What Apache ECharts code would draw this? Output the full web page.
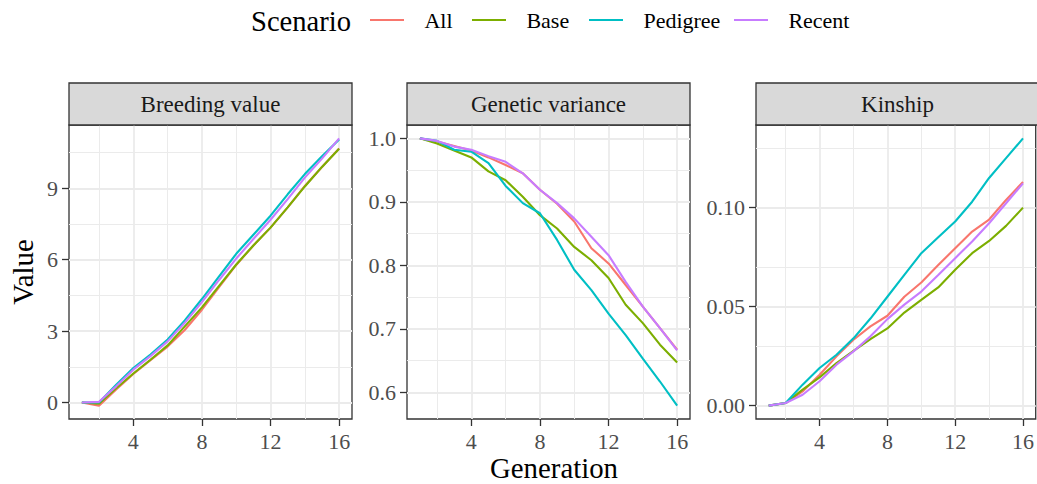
<!DOCTYPE html>
<html>
<head>
<meta charset="utf-8">
<script src="https://cdn.jsdelivr.net/npm/echarts@6/dist/echarts.min.js"></script>
<style>
html,body{margin:0;padding:0;background:#fff;}
#chart{width:1037px;height:484px;}
</style>
</head>
<body>
<div id="chart"></div>
<script>
// ---------------- data ----------------
const generations = [1, 2, 3, 4, 5, 6, 7, 8, 9, 10, 11, 12, 13, 14, 15, 16];
const scenarios = ['All', 'Base', 'Pedigree', 'Recent'];
const panelTitles = ['Breeding value', 'Genetic variance', 'Kinship'];

// Breeding value
const bvAll      = [0, -0.13, 0.55, 1.20, 1.78, 2.35, 3.05, 3.90, 4.85, 5.78, 6.60, 7.35, 8.20, 9.10, 9.90, 10.68];
const bvBase     = [0, -0.05, 0.60, 1.22, 1.80, 2.40, 3.20, 4.00, 4.90, 5.80, 6.60, 7.35, 8.20, 9.08, 9.90, 10.66];
const bvPedigree = [0, 0.00, 0.75, 1.45, 2.02, 2.65, 3.45, 4.35, 5.30, 6.25, 7.05, 7.85, 8.75, 9.60, 10.35, 11.05];
const bvRecent   = [0, 0.03, 0.68, 1.38, 1.95, 2.57, 3.35, 4.22, 5.15, 6.05, 6.87, 7.68, 8.55, 9.45, 10.25, 11.10];

// Genetic variance
const gvAll      = [1.000, 0.995, 0.988, 0.981, 0.970, 0.958, 0.945, 0.919, 0.897, 0.869, 0.827, 0.803, 0.769, 0.735, 0.701, 0.667];
const gvBase     = [1.000, 0.992, 0.981, 0.970, 0.948, 0.934, 0.908, 0.879, 0.858, 0.829, 0.808, 0.780, 0.738, 0.709, 0.675, 0.647];
const gvPedigree = [1.000, 0.996, 0.982, 0.979, 0.961, 0.925, 0.898, 0.882, 0.840, 0.793, 0.761, 0.724, 0.690, 0.653, 0.617, 0.579];
const gvRecent   = [1.000, 0.996, 0.987, 0.982, 0.972, 0.963, 0.945, 0.919, 0.898, 0.874, 0.845, 0.816, 0.774, 0.735, 0.701, 0.666];

// Kinship
const kAll      = [0, 0.0013, 0.0072, 0.0156, 0.0249, 0.0333, 0.0400, 0.0454, 0.0550, 0.0622, 0.0710, 0.0795, 0.0879, 0.0940, 0.1039, 0.1130];
const kBase     = [0, 0.0013, 0.0081, 0.0143, 0.0215, 0.0277, 0.0336, 0.0390, 0.0470, 0.0534, 0.0597, 0.0686, 0.0770, 0.0832, 0.0908, 0.1000];
const kPedigree = [0, 0.0013, 0.0106, 0.0190, 0.0257, 0.0340, 0.0440, 0.0550, 0.0660, 0.0770, 0.0850, 0.0930, 0.1030, 0.1150, 0.1250, 0.1350];
const kRecent   = [0, 0.0013, 0.0055, 0.0123, 0.0207, 0.0274, 0.0350, 0.0437, 0.0510, 0.0576, 0.0660, 0.0745, 0.0829, 0.0921, 0.1022, 0.1123];

// tick labels / grid breaks
const xMajor = [4, 8, 12, 16];
const xMinor = [2, 6, 10, 14];
const yMajor = [[0, 3, 6, 9], [0.6, 0.7, 0.8, 0.9, 1.0], [0, 0.05, 0.10]];
const yMinor = [[1.5, 4.5, 7.5, 10.5], [0.65, 0.75, 0.85, 0.95], [0.025, 0.075, 0.125]];
const yDecimals = [0, 1, 2];

const panelData = [
  [bvAll, bvBase, bvPedigree, bvRecent],
  [gvAll, gvBase, gvPedigree, gvRecent],
  [kAll, kBase, kPedigree, kRecent]
];

// ---------------- styling ----------------
const colors = ['#F8766D', '#7CAE00', '#00BFC4', '#C77CFF'];
const FONT = 'Liberation Serif';
const panelLeft = [69, 407, 756];
const panelWidth = 283;
const panelTop = 125;
const panelHeight = 294;
const stripTop = 83;
const legendLeft = [370, 472, 589, 734];

const chart = echarts.init(document.getElementById('chart'), null, {renderer: 'svg'});

const grids = [], xAxes = [], yAxes = [], series = [], graphics = [];

function expandMin(v) { return v.min - 0.05 * (v.max - v.min); }
function expandMax(v) { return v.max + 0.05 * (v.max - v.min); }

for (let p = 0; p < 3; p++) {
  grids.push({
    left: panelLeft[p], top: panelTop, width: panelWidth, height: panelHeight,
    show: true, borderColor: '#333333', borderWidth: 1.3, backgroundColor: '#ffffff',
    containLabel: false
  });
  xAxes.push({
    type: 'value', gridIndex: p, min: 0.25, max: 16.75,
    splitLine: {show: false}, axisLine: {show: false, onZero: false},
    axisTick: {show: true, length: 7, customValues: xMajor, lineStyle: {color: '#333333', width: 1.3}},
    axisLabel: {customValues: xMajor, margin: 11, color: '#4d4d4d', fontFamily: FONT, fontSize: 22}
  });
  const dec = yDecimals[p];
  yAxes.push({
    type: 'value', gridIndex: p, min: expandMin, max: expandMax, scale: true,
    splitLine: {show: false}, axisLine: {show: false, onZero: false},
    axisTick: {show: true, length: 7, customValues: yMajor[p], lineStyle: {color: '#333333', width: 1.3}},
    axisLabel: {customValues: yMajor[p], margin: 11, color: '#4d4d4d', fontFamily: FONT, fontSize: 22,
      formatter: function (v) { return Number(v).toFixed(dec); }}
  });

  // grid lines drawn through the axes' scales
  const ml = [];
  xMinor.forEach(function (v) { ml.push({xAxis: v, lineStyle: {color: '#ebebeb', width: 1}}); });
  yMinor[p].forEach(function (v) { ml.push({yAxis: v, lineStyle: {color: '#ebebeb', width: 1}}); });
  xMajor.forEach(function (v) { ml.push({xAxis: v, lineStyle: {color: '#ebebeb', width: 1.8}}); });
  yMajor[p].forEach(function (v) { ml.push({yAxis: v, lineStyle: {color: '#ebebeb', width: 1.8}}); });
  series.push({
    type: 'line', name: 'grid' + p, xAxisIndex: p, yAxisIndex: p, data: [], z: 1,
    silent: true, animation: false,
    markLine: {z: 1, silent: true, symbol: ['none', 'none'], label: {show: false}, animation: false,
      lineStyle: {type: 'solid'}, data: ml}
  });

  for (let s = 0; s < scenarios.length; s++) {
    series.push({
      type: 'line', name: scenarios[s], xAxisIndex: p, yAxisIndex: p, z: 3,
      showSymbol: false, symbol: 'none', animation: false,
      lineStyle: {color: colors[s], width: 2.1},
      itemStyle: {color: colors[s]},
      data: generations.map(function (g, i) { return [g, panelData[p][s][i]]; })
    });
  }

  // facet strip
  graphics.push({
    type: 'rect', z: 10,
    shape: {x: panelLeft[p], y: stripTop, width: panelWidth, height: panelTop - stripTop},
    style: {fill: '#d9d9d9', stroke: '#333333', lineWidth: 1.3}
  });
  graphics.push({
    type: 'text', z: 11, x: panelLeft[p] + panelWidth / 2, y: (stripTop + panelTop) / 2,
    style: {text: panelTitles[p], fontFamily: FONT, fontSize: 23, fill: '#1a1a1a', align: 'center', verticalAlign: 'middle'}
  });
}

// axis titles and legend title
graphics.push({
  type: 'text', x: 23, y: panelTop + panelHeight / 2, rotation: Math.PI / 2,
  style: {text: 'Value', fontFamily: FONT, fontSize: 28.8, fill: '#000000', align: 'center', verticalAlign: 'middle'}
});
graphics.push({
  type: 'text', x: (panelLeft[0] + panelLeft[2] + panelWidth) / 2, y: 468,
  style: {text: 'Generation', fontFamily: FONT, fontSize: 28.8, fill: '#000000', align: 'center', verticalAlign: 'middle'}
});
graphics.push({
  type: 'text', x: 251, y: 21,
  style: {text: 'Scenario', fontFamily: FONT, fontSize: 28.6, fill: '#000000', align: 'left', verticalAlign: 'middle'}
});

const legends = scenarios.map(function (name, i) {
  return {
    data: [name], left: legendLeft[i], top: 9, padding: 0, icon: 'rect',
    itemWidth: 34, itemHeight: 2.2,
    formatter: function (n) { return '\u2002\u2009' + n; },
    textStyle: {fontFamily: FONT, fontSize: 22, color: '#000000'},
    selectedMode: false
  };
});

chart.setOption({
  animation: false,
  backgroundColor: '#ffffff',
  legend: legends,
  grid: grids,
  xAxis: xAxes,
  yAxis: yAxes,
  series: series,
  graphic: graphics
});
</script>
</body>
</html>
